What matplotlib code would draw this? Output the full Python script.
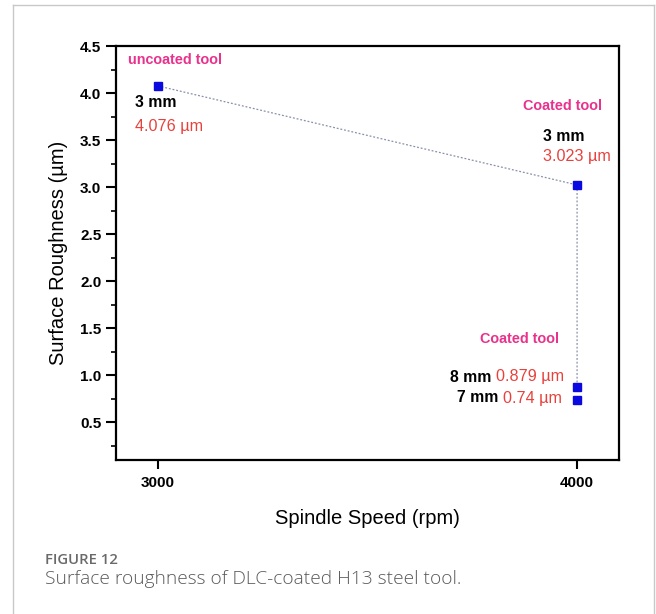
import matplotlib
matplotlib.use("Agg")
import matplotlib.pyplot as plt
from matplotlib.ticker import MultipleLocator
from matplotlib.lines import Line2D

# Data
speeds = [3000, 4000, 4000, 4000]
roughness = [4.076, 3.023, 0.879, 0.74]
depths = ["3 mm", "3 mm", "8 mm", "7 mm"]
line_speeds = [3000, 4000, 4000]
line_rough = [4.076, 3.023, 0.879]
xticks = [3000, 4000]
yticks = [0.5, 1.0, 1.5, 2.0, 2.5, 3.0, 3.5, 4.0, 4.5]

plt.rcParams['font.family'] = ['Liberation Sans', 'DejaVu Sans']

fig = plt.figure(figsize=(6.56, 6.14), dpi=100)
ax = fig.add_axes([116/656, 1-460/614, 503/656, 414/614])

ax.plot(line_speeds, line_rough, linestyle=(0, (1.5, 1.5)), color='#8a8fa8', lw=0.9, zorder=2)
ax.plot(speeds, roughness, linestyle='none', marker='s', ms=5.5, color='#0a0ae0', zorder=3)

ax.set_xlim(2900, 4100)
ax.set_ylim(0.1, 4.5)
ax.set_xticks(xticks)
ax.set_xticklabels([str(v) for v in xticks])
ax.set_yticks(yticks)
ax.set_yticklabels([f"{v:.1f}" for v in yticks])
ax.yaxis.set_minor_locator(MultipleLocator(0.25))
ax.tick_params(axis='y', which='major', direction='out', length=7.5, width=1.5,
               labelsize=11, pad=3)
ax.tick_params(axis='x', which='major', direction='out', length=6.5, width=1.5,
               labelsize=11, pad=5)
ax.tick_params(axis='y', which='minor', direction='out', length=3.8, width=1.2)
ax.tick_params(axis='x', which='minor', length=0)
for lab in ax.get_xticklabels() + ax.get_yticklabels():
    lab.set_fontweight('bold')
for s in ax.spines.values():
    s.set_linewidth(1.6)

ax.set_xlabel("Spindle Speed (rpm)", fontsize=14.5, labelpad=14)
ax.set_ylabel("Surface Roughness (µm)", fontsize=14.5, labelpad=9)

pink = '#e8328c'
red = '#e8413c'

def px2data(px, py):
    x = 2900 + (px - 116) / 503 * 1200
    y = 0.1 + (460 - py) / 414 * 4.4
    return x, y

def put(px, py, s, **kw):
    x, y = px2data(px, py)
    ax.text(x, y, s, va='center', **kw)

tag_fs = 10.4
mm_fs = 11.3
val_fs = 11.6

put(128, 60, "uncoated tool", color=pink, fontsize=tag_fs, fontweight='bold', ha='left')
put(135, 103, depths[0], color='black', fontsize=mm_fs, fontweight='bold', ha='left')
put(135, 127, f"{roughness[0]} µm", color=red, fontsize=val_fs, ha='left')

put(523, 106, "Coated tool", color=pink, fontsize=tag_fs, fontweight='bold', ha='left')
put(543, 137, depths[1], color='black', fontsize=mm_fs, fontweight='bold', ha='left')
put(543, 157, f"{roughness[1]} µm", color=red, fontsize=val_fs, ha='left')

put(480, 339, "Coated tool", color=pink, fontsize=tag_fs, fontweight='bold', ha='left')
put(491, 377, depths[2], color='black', fontsize=mm_fs, fontweight='bold', ha='right')
put(496, 377, f"{roughness[2]} µm", color=red, fontsize=val_fs, ha='left')
put(498, 398, depths[3], color='black', fontsize=mm_fs, fontweight='bold', ha='right')
put(503, 398, f"{roughness[3]} µm", color=red, fontsize=val_fs, ha='left')

# page border
bc = '#c8c8c8'
fig.add_artist(Line2D([13/656, 13/656], [0, 1-5/614], transform=fig.transFigure, color=bc, lw=1))
fig.add_artist(Line2D([13/656, 654/656], [1-5/614, 1-5/614], transform=fig.transFigure, color=bc, lw=1))
fig.add_artist(Line2D([654/656, 654/656], [0, 1-5/614], transform=fig.transFigure, color=bc, lw=1))

fig.text(45/656, 1-560/614, "FIGURE 12", family=['Open Sans', 'DejaVu Sans'], fontsize=10.7,
         color='#6a6a6a', va='center', ha='left', fontweight='semibold')
fig.text(45/656, 1-579/614, "Surface roughness of DLC-coated H13 steel tool.",
         family=['Open Sans', 'DejaVu Sans'], fontsize=13.8, color='#5a5a5a', va='center',
         ha='left', fontweight='light')

fig.savefig("out.png", dpi=100)
